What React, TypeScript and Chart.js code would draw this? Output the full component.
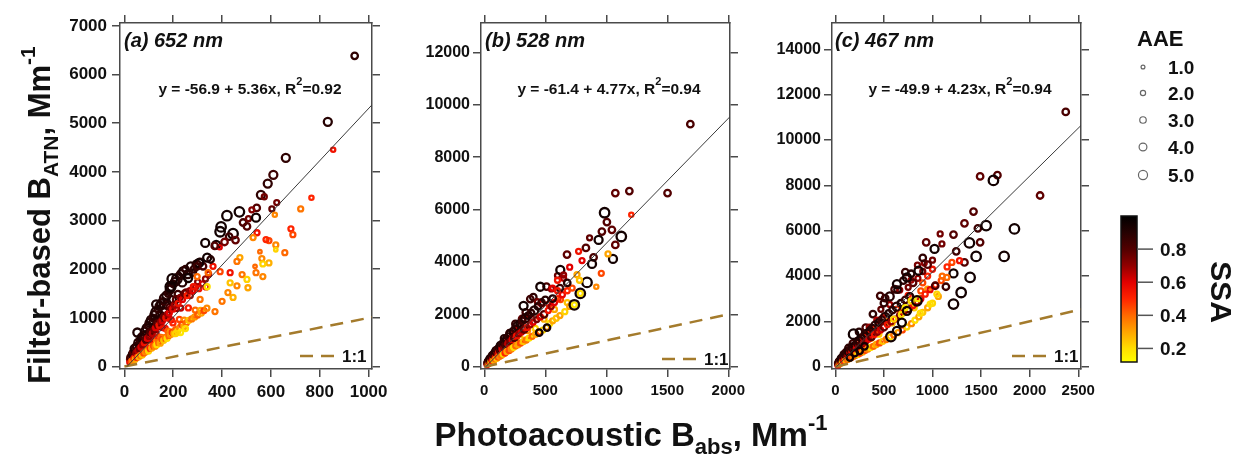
import React, { useEffect, useRef } from "react";
import { Chart, registerables } from "chart.js";

Chart.register(...registerables);

const FONT = '"Liberation Sans", Arial, Helvetica, sans-serif';

// ---------------- Panel (a) 652 nm ----------------
// dense core of the cloud
const A_CORE_X = [
  24, 29, 33, 38, 41, 45, 48, 51, 54, 58,
  61, 63, 67, 70, 72, 76, 78, 81, 85, 87,
  90, 94, 96, 100, 104, 108, 111, 115, 118, 122,
  125, 129, 132, 136, 139, 143, 146, 150, 153, 157,
  160, 164, 167, 171, 174, 178, 181, 185, 188, 192,
  195, 199, 204, 208, 213, 219, 225, 231, 237, 245,
  253, 262, 270, 280, 290, 300, 312, 322, 334, 345,
];
const A_CORE_Y = [
  149, 119, 241, 190, 156, 306, 221, 403, 292, 209,
  397, 309, 476, 301, 418, 524, 304, 421, 638, 392,
  549, 348, 538, 700, 437, 691, 555, 403, 897, 586,
  750, 684, 515, 911, 612, 815, 1051, 600, 964, 801,
  576, 1132, 785, 1009, 1288, 730, 996, 1221, 714, 960,
  1365, 896, 1265, 728, 1193, 1489, 968, 1201, 1730, 956,
  1518, 1205, 1458, 1932, 1160, 1740, 1154, 2061, 1637, 1898,
];
const A_CORE_SSA = [
  0.78, 0.5, 0.9, 0.62, 0.32, 0.86, 0.55, 0.92, 0.7, 0.28,
  0.84, 0.58, 0.88, 0.48, 0.72, 0.87, 0.35, 0.66, 0.9, 0.52,
  0.76, 0.3, 0.7, 0.88, 0.45, 0.8, 0.62, 0.25, 0.92, 0.56,
  0.75, 0.68, 0.36, 0.86, 0.5, 0.72, 0.9, 0.4, 0.8, 0.64,
  0.28, 0.88, 0.55, 0.74, 0.9, 0.42, 0.7, 0.85, 0.33, 0.6,
  0.9, 0.5, 0.8, 0.25, 0.7, 0.86, 0.46, 0.65, 0.9, 0.35,
  0.76, 0.52, 0.68, 0.88, 0.4, 0.72, 0.3, 0.82, 0.58, 0.66,
];
const A_CORE_AAE = [
  3, 2, 3, 2, 2, 3, 2, 4, 2, 2,
  3, 2, 3, 2, 2, 3, 2, 2, 4, 2,
  3, 2, 2, 3, 2, 3, 2, 2, 4, 2,
  2, 2, 2, 3, 2, 2, 4, 2, 3, 2,
  2, 3, 2, 2, 4, 2, 2, 3, 2, 2,
  4, 2, 3, 2, 2, 3, 2, 2, 4, 2,
  3, 2, 2, 3, 2, 2, 2, 3, 2, 2,
];
// remaining points
const A_X = [
  22, 25, 28, 32, 34, 37, 39, 42, 44, 47,
  49, 52, 55, 57, 59, 62, 64, 66, 68, 71,
  73, 75, 77, 79, 82, 84, 86, 88, 91, 93,
  95, 97, 99, 101, 103, 105, 107, 109, 112, 114,
  116, 119, 121, 123, 126, 128, 130, 133, 135, 137,
  140, 142, 144, 147, 149, 151, 154, 156, 158, 161,
  163, 165, 168, 170, 172, 175, 177, 179, 182, 184,
  186, 189, 191, 193, 196, 198, 200, 203, 205, 207,
  210, 212, 215, 218, 220, 223, 226, 229, 232, 235,
  238, 241, 244, 247, 250, 254, 257, 260, 264, 268,
  272, 276, 280, 284, 288, 292, 296, 300, 305, 310,
  315, 320, 326, 332, 338, 230, 250, 210, 53, 130,
  943, 833, 855, 661, 610, 587, 559, 573, 766, 722,
  624, 604, 542, 522, 471, 420, 396, 392, 445, 429,
  486, 508, 539, 502, 543, 616, 682, 690, 592, 580,
  527, 620, 620, 657, 555, 563, 592, 567, 535, 539,
  567, 473, 461, 482, 502, 506, 461, 445, 424, 400,
  371, 433, 433, 392, 363, 343, 339, 310, 282, 298,
  306, 339, 331, 376, 390, 196, 188, 261, 298, 370,
  410, 455, 353,
];
const A_Y = [
  90, 190, 100, 260, 120, 300, 170, 370, 150, 280,
  420, 190, 320, 490, 200, 370, 540, 230, 400, 600,
  240, 450, 650, 280, 490, 720, 300, 560, 790, 330,
  580, 840, 320, 620, 900, 380, 700, 960, 380, 680,
  1000, 430, 760, 1060, 420, 800, 1120, 450, 880, 1180,
  500, 850, 1240, 480, 920, 1300, 560, 940, 1340, 540,
  1020, 1400, 600, 1000, 1460, 580, 1080, 1500, 640, 1100,
  1580, 660, 1200, 1640, 700, 1180, 1700, 680, 1260, 1740,
  760, 1380, 1800, 720, 1300, 1860, 800, 1420, 1900, 860,
  1380, 1960, 820, 1500, 2000, 900, 1460, 1900, 950, 1560,
  2060, 980, 1560, 2000, 1020, 1640, 2100, 1060, 1600, 2150,
  1100, 1700, 1150, 1800, 1200, 700, 780, 680, 700, 1280,
  6386, 5030, 4455, 4290, 3940, 3760, 3530, 3490, 3470, 3240,
  3370, 3240, 3260, 3220, 3180, 3100, 2870, 2770, 2730, 2670,
  2960, 3040, 3060, 2880, 2750, 3120, 2830, 2710, 2590, 2610,
  2650, 2500, 2400, 2340, 2360, 2220, 2130, 2110, 2060, 1930,
  1850, 2240, 2160, 1890, 1790, 1620, 1660, 1420, 1520, 1340,
  1130, 1930, 1720, 1950, 2060, 1930, 1640, 1380, 1640, 1850,
  2130, 2240, 2540, 2500, 2450, 1800, 1640, 1820, 2060, 2480,
  2560, 2600, 2200,
];
const A_SSA = [
  0.6, 0.85, 0.45, 0.9, 0.35, 0.8, 0.55, 0.92, 0.3, 0.7,
  0.88, 0.5, 0.65, 0.9, 0.28, 0.75, 0.88, 0.4, 0.6, 0.92,
  0.25, 0.7, 0.85, 0.45, 0.55, 0.9, 0.35, 0.8, 0.92, 0.4,
  0.6, 0.88, 0.22, 0.7, 0.9, 0.5, 0.82, 0.92, 0.3, 0.65,
  0.88, 0.45, 0.75, 0.9, 0.35, 0.6, 0.92, 0.2, 0.8, 0.88,
  0.4, 0.55, 0.9, 0.3, 0.7, 0.92, 0.45, 0.62, 0.85, 0.25,
  0.78, 0.9, 0.38, 0.55, 0.92, 0.2, 0.7, 0.88, 0.4, 0.6,
  0.9, 0.33, 0.75, 0.92, 0.48, 0.58, 0.88, 0.28, 0.68, 0.9,
  0.42, 0.8, 0.92, 0.22, 0.55, 0.88, 0.35, 0.72, 0.9, 0.45,
  0.6, 0.92, 0.3, 0.78, 0.88, 0.4, 0.52, 0.9, 0.25, 0.7,
  0.92, 0.38, 0.6, 0.88, 0.32, 0.66, 0.9, 0.42, 0.55, 0.85,
  0.3, 0.62, 0.45, 0.7, 0.35, 0.18, 0.2, 0.22, 0.92, 0.92,
  0.88, 0.9, 0.55, 0.88, 0.85, 0.88, 0.88, 0.75, 0.5, 0.38,
  0.75, 0.78, 0.8, 0.72, 0.95, 0.95, 0.95, 0.95, 0.95, 0.85,
  0.82, 0.75, 0.95, 0.8, 0.55, 0.35, 0.5, 0.45, 0.45, 0.5,
  0.35, 0.35, 0.22, 0.4, 0.4, 0.35, 0.28, 0.22, 0.4, 0.38,
  0.35, 0.3, 0.38, 0.38, 0.22, 0.3, 0.35, 0.28, 0.35, 0.38,
  0.38, 0.55, 0.25, 0.45, 0.55, 0.4, 0.2, 0.38, 0.55, 0.4,
  0.95, 0.95, 0.95, 0.95, 0.6, 0.95, 0.95, 0.95, 0.85, 0.8,
  0.75, 0.78, 0.9,
];
const A_AAE = [
  2, 3, 2, 3, 2, 3, 2, 4, 2, 2,
  3, 2, 2, 4, 2, 2, 3, 2, 2, 4,
  2, 2, 3, 2, 2, 4, 2, 3, 4, 2,
  2, 3, 2, 2, 4, 2, 3, 4, 2, 2,
  3, 2, 2, 4, 2, 2, 5, 2, 3, 3,
  2, 2, 4, 2, 2, 4, 2, 2, 3, 2,
  3, 5, 2, 2, 4, 2, 2, 3, 2, 2,
  4, 2, 2, 4, 2, 2, 3, 2, 2, 4,
  2, 3, 5, 2, 2, 3, 2, 2, 4, 2,
  2, 4, 2, 3, 3, 2, 2, 4, 2, 2,
  4, 2, 2, 3, 2, 2, 4, 2, 2, 3,
  2, 2, 2, 2, 2, 2, 2, 2, 4, 4,
  3, 4, 1.5, 4, 4, 4, 4, 2, 1.5, 2,
  2, 2, 3, 2, 5, 5, 5, 5, 5, 3,
  3, 2, 4, 3, 2, 1.5, 2, 2, 2, 2,
  2, 2, 1, 2, 1, 2, 2, 2, 1, 2,
  2, 2, 2, 2, 2, 2, 2, 2, 2, 2,
  2, 2, 2, 2, 2, 2, 2, 2, 2, 2,
  4, 4, 4, 4, 1.5, 5, 5, 4, 3, 3,
  3, 3, 3,
];
const A_X_TICKS = [0, 200, 400, 600, 800, 1000];
const A_Y_TICKS = [0, 1000, 2000, 3000, 4000, 5000, 6000, 7000];
const A_FIT = [-56.9, 5.36, 0.92]; // intercept, slope, R2

// ---------------- Panel (b) 528 nm ----------------
const B_CORE_X = [
  24, 28, 32, 36, 40, 44, 48, 52, 56, 60,
  64, 68, 72, 76, 80, 84, 88, 92, 96, 100,
  108, 116, 124, 132, 142, 152, 162, 172, 182, 194,
  206, 218, 230, 242, 255, 268, 282, 296, 310, 325,
  340, 355, 370, 386, 402, 418, 435, 452, 470, 490,
  510, 530, 550, 575, 600, 625, 650, 680,
];
const B_CORE_Y = [
  139, 109, 211, 162, 208, 150, 293, 250, 207, 330,
  435, 286, 360, 266, 504, 386, 502, 350, 624, 440,
  572, 418, 744, 647, 554, 851, 1085, 705, 928, 660,
  1277, 1025, 1265, 920, 1632, 1152, 1410, 1066, 1829, 1463,
  2074, 1385, 1961, 1853, 2653, 1463, 2480, 1898, 2397, 1813,
  3060, 2385, 2970, 2185, 3480, 2563, 3380, 2448,
];
const B_CORE_SSA = [
  0.75, 0.35, 0.88, 0.55, 0.68, 0.22, 0.85, 0.58, 0.3, 0.72,
  0.9, 0.5, 0.62, 0.25, 0.86, 0.55, 0.74, 0.32, 0.88, 0.52,
  0.7, 0.28, 0.82, 0.6, 0.35, 0.72, 0.9, 0.45, 0.65, 0.2,
  0.85, 0.56, 0.72, 0.3, 0.87, 0.5, 0.62, 0.26, 0.78, 0.54,
  0.84, 0.34, 0.68, 0.58, 0.88, 0.22, 0.74, 0.48, 0.64, 0.28,
  0.82, 0.54, 0.7, 0.3, 0.76, 0.45, 0.66, 0.25,
];
const B_CORE_AAE = [
  2, 2, 3, 2, 2, 2, 3, 2, 2, 2,
  3, 2, 2, 2, 3, 2, 2, 2, 3, 2,
  2, 2, 3, 2, 2, 2, 3, 2, 2, 2,
  3, 2, 2, 2, 3, 2, 2, 2, 3, 2,
  3, 2, 2, 2, 3, 2, 2, 2, 2, 2,
  3, 2, 2, 2, 2, 2, 2, 2,
];
const B_X = [
  22, 26, 30, 34, 38, 42, 46, 50, 54, 58,
  62, 66, 70, 74, 78, 82, 86, 90, 94, 98,
  102, 106, 110, 114, 118, 122, 126, 130, 135, 140,
  145, 150, 155, 160, 165, 170, 175, 180, 186, 192,
  198, 204, 210, 216, 222, 228, 234, 240, 246, 252,
  258, 264, 270, 277, 284, 291, 298, 305, 312, 320,
  328, 336, 344, 352, 360, 368, 376, 384, 392, 400,
  410, 420, 430, 440, 450, 460, 470, 480, 490, 500,
  512, 524, 536, 548, 560, 575, 590, 605, 620, 640,
  660, 680, 700, 720, 514, 450, 787, 738,
  1689, 1074, 1189, 1502, 986, 1205, 1005, 1046, 964, 1123,
  937, 1074, 863, 833, 1055, 1014, 959, 918, 678, 773,
  801, 896, 883, 623, 842, 787, 738, 459, 322, 377, 760,
  700, 650, 600, 560, 680, 620, 560, 600, 780,
];
const B_Y = [
  80, 150, 110, 200, 130, 240, 170, 300, 180, 300,
  380, 220, 350, 450, 250, 410, 520, 300, 450, 590,
  320, 500, 650, 370, 560, 720, 400, 620, 800, 440,
  680, 860, 480, 740, 940, 520, 820, 1050, 580, 880,
  1150, 620, 960, 1250, 680, 1040, 1350, 740, 1100, 1450,
  800, 1180, 1550, 840, 1260, 1650, 900, 1320, 1750, 960,
  1420, 1850, 1020, 1500, 1950, 1100, 1600, 2050, 1160, 1700,
  2150, 1240, 1800, 2300, 1320, 1900, 2450, 1400, 2000, 2550,
  1500, 2150, 1650, 2300, 1750, 2450, 1850, 2600, 1950, 2750,
  2100, 2900, 2300, 3000, 1494, 1300, 2797, 2364,
  9260, 6630, 6705, 6630, 5877, 5800, 5520, 5225, 5160, 4970,
  4840, 4650, 4920, 4535, 4115, 4306, 3563, 3053, 4280, 4406,
  4050, 4176, 3923, 3693, 3218, 2797, 2364, 3053, 2325, 2582, 3513,
  3800, 3500, 3300, 3000, 3200, 3000, 2600, 2900, 3300,
];
const B_SSA = [
  0.6, 0.85, 0.45, 0.9, 0.35, 0.8, 0.55, 0.92, 0.3, 0.7,
  0.88, 0.5, 0.65, 0.9, 0.28, 0.75, 0.88, 0.4, 0.6, 0.92,
  0.25, 0.7, 0.85, 0.45, 0.55, 0.9, 0.35, 0.8, 0.92, 0.4,
  0.6, 0.88, 0.22, 0.7, 0.9, 0.5, 0.82, 0.92, 0.3, 0.65,
  0.88, 0.45, 0.75, 0.9, 0.35, 0.6, 0.92, 0.2, 0.8, 0.88,
  0.4, 0.55, 0.9, 0.3, 0.7, 0.92, 0.45, 0.62, 0.85, 0.25,
  0.78, 0.9, 0.38, 0.55, 0.92, 0.2, 0.7, 0.88, 0.4, 0.6,
  0.9, 0.3, 0.75, 0.92, 0.45, 0.62, 0.85, 0.22, 0.8, 0.9,
  0.35, 0.55, 0.2, 0.7, 0.3, 0.6, 0.25, 0.52, 0.3, 0.58,
  0.22, 0.5, 0.3, 0.45, 0.95, 0.95, 0.2, 0.18,
  0.82, 0.78, 0.8, 0.8, 0.95, 0.5, 0.8, 0.78, 0.8, 0.95,
  0.95, 0.78, 0.78, 0.8, 0.95, 0.3, 0.45, 0.35, 0.78, 0.55,
  0.6, 0.82, 0.95, 0.95, 0.95, 0.95, 0.95, 0.95, 0.95, 0.85, 0.3,
  0.6, 0.7, 0.55, 0.6, 0.9, 0.85, 0.9, 0.55, 0.25,
];
const B_AAE = [
  2, 3, 2, 3, 2, 3, 2, 4, 2, 2,
  3, 2, 2, 3, 2, 2, 3, 2, 2, 4,
  2, 2, 3, 2, 2, 3, 2, 3, 4, 2,
  2, 3, 2, 2, 4, 2, 3, 3, 2, 2,
  3, 2, 2, 4, 2, 2, 3, 2, 3, 3,
  2, 2, 4, 2, 2, 3, 2, 2, 3, 2,
  3, 4, 2, 2, 3, 2, 2, 3, 2, 2,
  4, 2, 2, 3, 2, 2, 3, 2, 3, 3,
  2, 2, 2, 2, 2, 2, 2, 2, 2, 2,
  2, 2, 2, 2, 3, 3, 2, 2,
  3, 3, 3, 3, 5, 1.5, 3, 3, 3, 5,
  4, 3, 2, 3, 4, 2, 2, 1.5, 3, 2,
  2, 3, 4, 4, 5, 5, 5, 4, 4, 3, 2,
  2, 2, 2, 2, 3, 3, 3, 2, 2,
];
const B_X_TICKS = [0, 500, 1000, 1500, 2000];
const B_Y_TICKS = [0, 2000, 4000, 6000, 8000, 10000, 12000];
const B_FIT = [-61.4, 4.77, 0.94];

// ---------------- Panel (c) 467 nm ----------------
const C_CORE_X = [
  28, 33, 39, 45, 51, 57, 63, 69, 75, 81,
  87, 93, 99, 105, 111, 117, 123, 129, 135, 141,
  154, 167, 181, 195, 212, 228, 244, 260, 277, 295,
  313, 331, 349, 368, 387, 407, 427, 448, 469, 491,
  513, 536, 560, 585, 610, 636, 663, 691, 720, 750,
  780, 812, 845, 880, 915, 950,
];
const C_CORE_Y = [
  146, 112, 234, 185, 245, 171, 353, 304, 240, 405,
  539, 353, 455, 326, 644, 491, 652, 452, 824, 564,
  755, 551, 1032, 878, 763, 1163, 1537, 1014, 1302, 885,
  1722, 1423, 1745, 1251, 2322, 1669, 2050, 1434, 2533, 2160,
  3027, 1983, 2744, 1931, 3416, 2544, 3381, 2419, 4176, 3150,
  3822, 2598, 4479, 3344, 4575, 3420,
];
const C_CORE_SSA = [
  0.72, 0.3, 0.88, 0.5, 0.66, 0.2, 0.85, 0.55, 0.25, 0.7,
  0.9, 0.45, 0.62, 0.22, 0.86, 0.52, 0.74, 0.3, 0.88, 0.48,
  0.68, 0.26, 0.85, 0.58, 0.32, 0.7, 0.9, 0.46, 0.64, 0.2,
  0.82, 0.54, 0.7, 0.28, 0.88, 0.5, 0.66, 0.24, 0.78, 0.56,
  0.86, 0.4, 0.68, 0.26, 0.84, 0.48, 0.7, 0.3, 0.86, 0.52,
  0.68, 0.24, 0.74, 0.44, 0.7, 0.32,
];
const C_CORE_AAE = [
  2, 2, 3, 2, 2, 2, 3, 2, 2, 2,
  3, 2, 2, 2, 3, 2, 2, 2, 3, 2,
  2, 2, 3, 2, 2, 2, 3, 2, 2, 2,
  3, 2, 2, 2, 3, 2, 2, 2, 2, 2,
  3, 2, 2, 2, 3, 2, 2, 2, 3, 2,
  2, 2, 2, 2, 2, 2,
];
const C_X = [
  25, 30, 36, 42, 48, 54, 60, 66, 72, 78,
  84, 90, 96, 102, 108, 114, 120, 126, 132, 138,
  144, 150, 157, 164, 171, 178, 185, 192, 200, 208,
  216, 224, 232, 240, 248, 256, 264, 272, 281, 290,
  299, 308, 317, 326, 335, 344, 353, 362, 372, 382,
  392, 402, 412, 422, 433, 444, 455, 466, 477, 488,
  500, 512, 524, 536, 548, 560, 574, 588, 602, 616,
  630, 645, 660, 675, 690, 705, 720, 736, 752, 768,
  784, 800, 820, 840, 860, 880, 900, 925, 950, 975,
  1000, 1030, 1060, 1090, 300, 250, 200, 150, 850, 780,
  720, 680, 600, 900, 780, 700, 640, 560, 500, 1200,
  1150, 1100, 1000, 950, 900, 1000, 950, 900, 850, 800, 750,
  2371, 1490, 1668, 1627, 2107, 1422, 1329, 1467, 1552, 1843,
  1216, 1490, 1380, 1737, 1449, 1244, 935, 1021, 1079, 1097,
  1387, 1295, 1216, 1216, 1138, 1028, 1148, 1329, 1278, 976,
  1045, 874, 840, 572, 634, 685, 737, 634, 737, 462, 856, 188,
];
const C_Y = [
  80, 160, 110, 230, 140, 280, 190, 350, 200, 330,
  440, 250, 400, 520, 280, 470, 600, 320, 520, 680,
  360, 580, 760, 400, 650, 850, 450, 720, 940, 500,
  800, 1040, 540, 880, 1140, 600, 960, 1250, 650, 1050,
  1350, 720, 1140, 1460, 780, 1220, 1580, 850, 1320, 1700,
  900, 1420, 1820, 980, 1520, 1950, 1050, 1620, 2080, 1120,
  1740, 2200, 1200, 1860, 2350, 1300, 1980, 2500, 1400, 2100,
  2650, 1500, 2250, 2800, 1620, 2400, 2950, 1750, 2550, 3100,
  1900, 2700, 2050, 2850, 2200, 3000, 2400, 3200, 2600, 3400,
  2800, 3600, 3100, 3800, 900, 700, 600, 400, 3000, 2900,
  2600, 2300, 2100, 4800, 4100, 3800, 3400, 3100, 2800, 4600,
  4400, 4000, 4300, 4000, 3700, 4700, 4500, 4200, 3900, 3700, 3500,
  11240, 8394, 8450, 8217, 7553, 6845, 6327, 6106, 6225, 6080,
  5827, 5487, 5460, 4867, 4867, 5088, 5487, 5195, 5858, 5416,
  3938, 3274, 2761, 4115, 3527, 3571, 3938, 4602, 4677, 2761,
  3204, 2363, 2907, 1327, 1580, 1947, 2465, 3646, 3938, 3128, 4234, 1434,
];
const C_SSA = [
  0.6, 0.85, 0.45, 0.9, 0.35, 0.8, 0.55, 0.92, 0.3, 0.7,
  0.88, 0.5, 0.65, 0.9, 0.28, 0.75, 0.88, 0.4, 0.6, 0.92,
  0.25, 0.7, 0.85, 0.45, 0.55, 0.9, 0.35, 0.8, 0.92, 0.4,
  0.6, 0.88, 0.22, 0.7, 0.9, 0.5, 0.82, 0.92, 0.3, 0.65,
  0.88, 0.45, 0.75, 0.9, 0.35, 0.6, 0.92, 0.2, 0.8, 0.88,
  0.4, 0.55, 0.9, 0.3, 0.7, 0.92, 0.45, 0.62, 0.85, 0.25,
  0.78, 0.9, 0.38, 0.55, 0.92, 0.2, 0.7, 0.88, 0.4, 0.6,
  0.9, 0.3, 0.75, 0.92, 0.45, 0.62, 0.85, 0.22, 0.8, 0.9,
  0.35, 0.55, 0.2, 0.7, 0.3, 0.6, 0.25, 0.52, 0.3, 0.58,
  0.22, 0.5, 0.3, 0.45, 0.95, 0.95, 0.95, 0.95, 0.18, 0.2,
  0.18, 0.2, 0.22, 0.88, 0.9, 0.88, 0.9, 0.9, 0.88, 0.45,
  0.5, 0.4, 0.55, 0.5, 0.45, 0.75, 0.8, 0.75, 0.7, 0.8, 0.75,
  0.82, 0.78, 0.8, 0.95, 0.78, 0.8, 0.78, 0.85, 0.95, 0.95,
  0.8, 0.8, 0.95, 0.95, 0.95, 0.85, 0.78, 0.95, 0.75, 0.75,
  0.95, 0.95, 0.95, 0.95, 0.85, 0.82, 0.4, 0.8, 0.55, 0.2,
  0.22, 0.2, 0.95, 0.95, 0.95, 0.95, 0.95, 0.95, 0.95, 0.85, 0.95, 0.95,
];
const C_AAE = [
  2, 3, 2, 3, 2, 3, 2, 4, 2, 2,
  3, 2, 2, 3, 2, 2, 3, 2, 2, 4,
  2, 2, 3, 2, 2, 4, 2, 3, 3, 2,
  2, 3, 2, 2, 4, 2, 3, 3, 2, 2,
  3, 2, 2, 4, 2, 2, 3, 2, 3, 3,
  2, 2, 4, 2, 2, 3, 2, 2, 3, 2,
  3, 4, 2, 2, 3, 2, 2, 3, 2, 2,
  4, 2, 2, 3, 2, 2, 3, 2, 3, 3,
  2, 2, 2, 2, 2, 2, 2, 2, 2, 2,
  2, 2, 2, 2, 3, 3, 3, 3, 2, 2,
  2, 2, 2, 3, 3, 3, 3, 4, 3, 2,
  2, 2, 2, 2, 2, 2, 3, 2, 2, 3, 2,
  3, 3, 3, 5, 3, 3, 3, 3, 5, 5,
  3, 3, 5, 5, 5, 3, 3, 4, 2, 2,
  5, 5, 5, 4, 3, 3, 2, 3, 2, 2,
  2, 2, 5, 5, 4, 4, 4, 4, 4, 3, 4, 5,
];
const C_X_TICKS = [0, 500, 1000, 1500, 2000, 2500];
const C_Y_TICKS = [0, 2000, 4000, 6000, 8000, 10000, 12000, 14000];
const C_FIT = [-49.9, 4.23, 0.94];

// ---------------- Legends ----------------
const AAE_LEGEND = [1.0, 2.0, 3.0, 4.0, 5.0];
const SSA_TICKS = [0.2, 0.4, 0.6, 0.8];
const SSA_MIN = 0.118;
const SSA_MAX = 1.0;

// colour map (yellow -> red -> black)
const SSA_STOPS: [number, number[]][] = [
  [0.118, [255, 255, 0]],
  [0.2, [255, 222, 0]],
  [0.3, [255, 165, 0]],
  [0.4, [255, 105, 0]],
  [0.5, [255, 36, 0]],
  [0.6, [226, 0, 0]],
  [0.7, [145, 0, 0]],
  [0.8, [82, 0, 0]],
  [0.9, [38, 2, 2]],
  [1.0, [0, 0, 0]],
];

function ssaColor(v: number): string {
  if (v <= SSA_STOPS[0][0]) return `rgb(${SSA_STOPS[0][1].join(",")})`;
  for (let i = 1; i < SSA_STOPS.length; i++) {
    const [v1, c1] = SSA_STOPS[i];
    const [v0, c0] = SSA_STOPS[i - 1];
    if (v <= v1) {
      const t = (v - v0) / (v1 - v0);
      const c = c0.map((a, k) => Math.round(a + (c1[k] - a) * t));
      return `rgb(${c.join(",")})`;
    }
  }
  return "rgb(0,0,0)";
}
const aaeRadius = (a: number) => 1.0 + 0.75 * a;

type PanelCfg = {
  xs: number[];
  ys: number[];
  ssa: number[];
  aae: number[];
  xTicks: number[];
  yTicks: number[];
  fit: number[];
  xMin: number;
  xMax: number;
  yMin: number;
  yMax: number;
  left: number;
  width: number;
  wl: number;
  wr: number;
  yFont: number;
  xFont: number;
  yPad: number;
};

const CANVAS_H = 400;
const AXIS_COLOR = "#4a4a4a";

function makeAxis(
  pos: string,
  min: number,
  max: number,
  ticks: number[],
  show: boolean,
  size: number,
  fontSize: number,
  pad: number
) {
  const vertical = pos === "left" || pos === "right";
  return {
    type: "linear",
    position: pos,
    min,
    max,
    afterBuildTicks: (s: any) => {
      s.ticks = ticks.map((v) => ({ value: v }));
    },
    afterFit: (s: any) => {
      if (vertical) s.width = size;
      else s.height = size;
      s.paddingLeft = 0;
      s.paddingRight = 0;
      s.paddingTop = 0;
      s.paddingBottom = 0;
    },
    ticks: {
      display: show,
      autoSkip: false,
      maxRotation: 0,
      minRotation: 0,
      padding: pad,
      color: "#111",
      font: { family: FONT, size: fontSize, weight: "bold" },
      callback: (v: any) => String(v),
    },
    grid: {
      display: true,
      drawOnChartArea: false,
      drawTicks: true,
      tickLength: 8,
      tickWidth: 1.5,
      tickColor: AXIS_COLOR,
      color: AXIS_COLOR,
      lineWidth: 1.5,
    },
    border: { display: true, color: AXIS_COLOR, width: 1.5 },
  };
}

function Panel({ cfg }: { cfg: PanelCfg }) {
  const ref = useRef<HTMLCanvasElement>(null);
  useEffect(() => {
    const c = cfg;
    const [a, b] = c.fit;
    const xStart = Math.max(c.xMin, -a / b);
    const fitPts = [
      { x: xStart, y: a + b * xStart },
      { x: c.xMax, y: a + b * c.xMax },
    ];
    const onePts = [
      { x: 0, y: 0 },
      { x: c.xMax, y: c.xMax },
    ];
    const pts = c.xs.map((x, i) => ({ x, y: c.ys[i] }));
    const chart = new Chart(ref.current as HTMLCanvasElement, {
      type: "scatter",
      data: {
        datasets: [
          {
            data: fitPts,
            showLine: true,
            borderColor: "#3a3a3a",
            borderWidth: 1,
            pointRadius: 0,
          } as any,
          {
            data: onePts,
            showLine: true,
            borderColor: "#a47b2c",
            borderWidth: 2.5,
            borderDash: [13, 8],
            pointRadius: 0,
          } as any,
          {
            data: pts,
            pointRadius: c.aae.map(aaeRadius),
            pointBorderColor: c.ssa.map(ssaColor),
            pointBackgroundColor: "rgba(0,0,0,0)",
            pointBorderWidth: 2.3,
          } as any,
        ],
      },
      options: {
        responsive: false,
        animation: false,
        devicePixelRatio: 1,
        events: [],
        layout: { padding: 0 },
        plugins: { legend: { display: false }, tooltip: { enabled: false } },
        scales: {
          x: makeAxis("bottom", c.xMin, c.xMax, c.xTicks, true, 31, c.xFont, 5),
          xTop: makeAxis("top", c.xMin, c.xMax, c.xTicks, false, 23, c.xFont, 0),
          y: makeAxis("left", c.yMin, c.yMax, c.yTicks, true, c.wl, c.yFont, c.yPad),
          yRight: makeAxis("right", c.yMin, c.yMax, c.yTicks, false, c.wr, c.yFont, 0),
        } as any,
      },
    });
    return () => chart.destroy();
  }, []);
  return (
    <canvas
      ref={ref}
      width={cfg.width}
      height={CANVAS_H}
      style={{ position: "absolute", left: cfg.left, top: 0, width: cfg.width, height: CANVAS_H }}
    />
  );
}

const PANEL_A: PanelCfg = {
  xs: [...A_CORE_X, ...A_X], ys: [...A_CORE_Y, ...A_Y],
  ssa: [...A_CORE_SSA, ...A_SSA], aae: [...A_CORE_AAE, ...A_AAE],
  xTicks: A_X_TICKS, yTicks: A_Y_TICKS, fit: A_FIT,
  xMin: -18, xMax: 1014, yMin: -50, yMax: 7060,
  left: 50, width: 342, wl: 70, wr: 20, yFont: 17, xFont: 17, yPad: 5,
};
const PANEL_B: PanelCfg = {
  xs: [...B_CORE_X, ...B_X], ys: [...B_CORE_Y, ...B_Y],
  ssa: [...B_CORE_SSA, ...B_SSA], aae: [...B_CORE_AAE, ...B_AAE],
  xTicks: B_X_TICKS, yTicks: B_Y_TICKS, fit: B_FIT,
  xMin: -27, xMax: 2014, yMin: -88, yMax: 13122,
  left: 420, width: 330, wl: 61, wr: 20, yFont: 16, xFont: 15, yPad: 3,
};
const PANEL_C: PanelCfg = {
  xs: [...C_CORE_X, ...C_X], ys: [...C_CORE_Y, ...C_Y],
  ssa: [...C_CORE_SSA, ...C_SSA], aae: [...C_CORE_AAE, ...C_AAE],
  xTicks: C_X_TICKS, yTicks: C_Y_TICKS, fit: C_FIT,
  xMin: -34, xMax: 2528, yMin: -102, yMax: 15164,
  left: 770, width: 331, wl: 62, wr: 20, yFont: 16, xFont: 15, yPad: 3,
};

const PANEL_TEXT = [
  { title: "(a) 652 nm", tx: 124, eqx: 250, fit: A_FIT, lx: 300, ly: 356 },
  { title: "(b) 528 nm", tx: 485, eqx: 609, fit: B_FIT, lx: 662, ly: 359 },
  { title: "(c) 467 nm", tx: 835, eqx: 960, fit: C_FIT, lx: 1012, ly: 356 },
];

const fmtSigned = (v: number) => (v < 0 ? `-${Math.abs(v).toFixed(1)}` : v.toFixed(1));

export default function App() {
  const cbTop = 216;
  const cbH = 146;
  const cbY = (v: number) => cbTop + cbH * (1 - (v - SSA_MIN) / (SSA_MAX - SSA_MIN));
  const legendRows = [67, 93, 120, 147, 175];
  return (
    <div
      style={{
        position: "fixed",
        left: 0,
        top: 0,
        width: 1240,
        height: 463,
        background: "#fff",
        overflow: "hidden",
        fontFamily: FONT,
      }}
    >
      <Panel cfg={PANEL_A} />
      <Panel cfg={PANEL_B} />
      <Panel cfg={PANEL_C} />
      <svg
        width={1240}
        height={463}
        style={{ position: "absolute", left: 0, top: 0, pointerEvents: "none" }}
        fontFamily={FONT}
      >
        <defs>
          <linearGradient id="ssaGrad" x1="0" y1="1" x2="0" y2="0">
            {SSA_STOPS.map(([v, c], i) => (
              <stop
                key={i}
                offset={`${((v - SSA_MIN) / (SSA_MAX - SSA_MIN)) * 100}%`}
                stopColor={`rgb(${c.join(",")})`}
              />
            ))}
          </linearGradient>
        </defs>

        {/* Axis titles */}
        <text
          transform="translate(50,215) rotate(-90)"
          textAnchor="middle"
          fontSize={31}
          fontWeight="bold"
          fill="#111"
        >
          Filter-based B
          <tspan fontSize={21} dy={8}>ATN</tspan>
          <tspan dy={-8}>, Mm</tspan>
          <tspan fontSize={21} dy={-15}>-1</tspan>
        </text>
        <text x={631} y={446} textAnchor="middle" fontSize={33} fontWeight="bold" fill="#111">
          Photoacoustic B
          <tspan fontSize={22} dy={8}>abs</tspan>
          <tspan dy={-8}>, Mm</tspan>
          <tspan fontSize={22} dy={-16}>-1</tspan>
        </text>

        {/* Panel annotations */}
        {PANEL_TEXT.map((p, i) => (
          <g key={i}>
            <text x={p.tx} y={46.5} fontSize={20} fontWeight="bold" fontStyle="italic" fill="#111">
              {p.title}
            </text>
            <text x={p.eqx} y={94} textAnchor="middle" fontSize={15.5} fontWeight="bold" fill="#111">
              {`y = ${fmtSigned(p.fit[0])} + ${p.fit[1].toFixed(2)}x, R`}
              <tspan fontSize={11} dy={-9}>2</tspan>
              <tspan dy={9}>{`=${p.fit[2].toFixed(2)}`}</tspan>
            </text>
            <line
              x1={p.lx}
              y1={p.ly}
              x2={p.lx + 34}
              y2={p.ly}
              stroke="#a47b2c"
              strokeWidth={2.5}
              strokeDasharray="13 8"
            />
            <text x={p.lx + 42} y={p.ly + 6} fontSize={17} fontWeight="bold" fill="#111">
              1:1
            </text>
          </g>
        ))}

        {/* AAE legend */}
        <text x={1137} y={46} fontSize={22} fontWeight="bold" fill="#111">
          AAE
        </text>
        {AAE_LEGEND.map((a, i) => (
          <g key={i}>
            <circle
              cx={1143}
              cy={legendRows[i]}
              r={1.3 + 0.65 * a}
              fill="none"
              stroke="#666"
              strokeWidth={1.2}
            />
            <text x={1168} y={legendRows[i] + 7} fontSize={19} fontWeight="bold" fill="#111">
              {a.toFixed(1)}
            </text>
          </g>
        ))}

        {/* SSA colour bar */}
        <rect x={1121} y={cbTop} width={16} height={cbH} fill="url(#ssaGrad)" stroke="#111" strokeWidth={1.5} />
        {SSA_TICKS.map((v, i) => (
          <g key={i}>
            <line x1={1137} y1={cbY(v)} x2={1153} y2={cbY(v)} stroke="#555" strokeWidth={1.5} />
            <text x={1160} y={cbY(v) + 6.5} fontSize={19} fontWeight="bold" fill="#111">
              {v.toFixed(1)}
            </text>
          </g>
        ))}
        <text
          transform="translate(1211,292) rotate(90)"
          textAnchor="middle"
          fontSize={30}
          fontWeight="bold"
          fill="#111"
        >
          SSA
        </text>
      </svg>
    </div>
  );
}
